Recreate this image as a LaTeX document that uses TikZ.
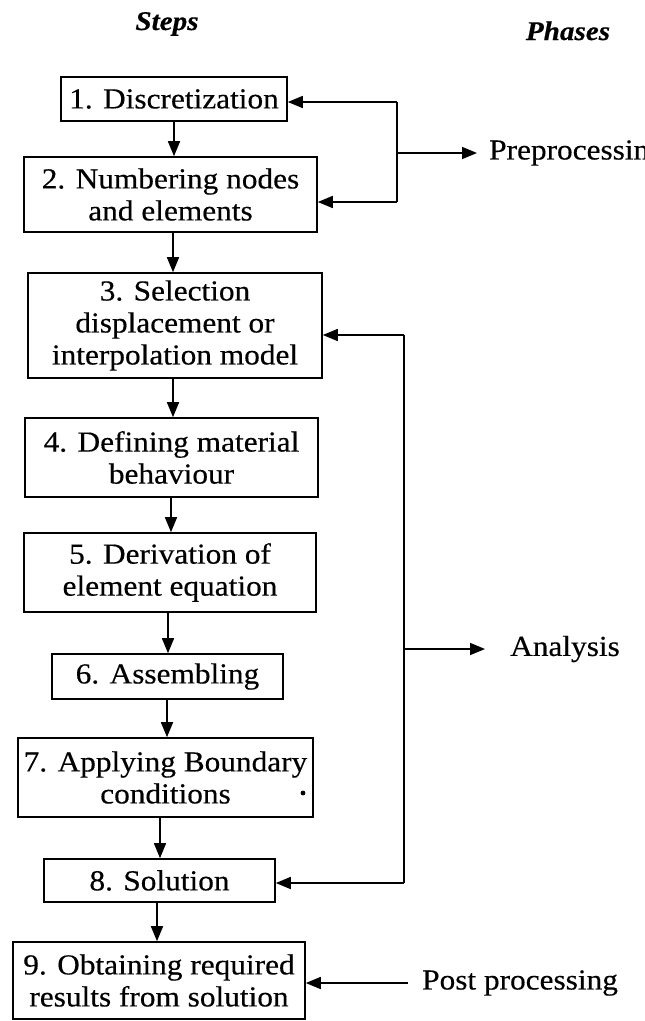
\documentclass[tikz,border=0pt]{standalone}
\usepackage{fontspec}
\setmainfont{Liberation Serif}[FakeStretch=1.08,FakeBold=0.4]
\usetikzlibrary{arrows.meta}
\tikzset{
  stepbox/.style={draw, line width=1.6pt, inner sep=0pt, align=center,
    font=\fontsize{29}{32}\selectfont},
  lbl/.style={anchor=west, inner ysep=0pt, font=\fontsize{29}{32}\selectfont},
  head/.style={anchor=base, inner sep=0pt, font=\fontsize{27}{30}\selectfont\bfseries\itshape},
  conn/.style={line width=1.6pt},
  arr/.style={line width=1.6pt, -{Triangle[length=15pt,width=12pt]}}
}
\begin{document}
\begin{tikzpicture}[x=1pt,y=-1pt]
\useasboundingbox (0,0) rectangle (645,1021);
% headings
\node[head] (hs) at (167,30) {Steps};
\node[head] (hp) at (568,40) {Phases};
% step boxes
\node[stepbox, minimum width=226pt, minimum height=44pt]  (b1) at (174,99)    {1. Discretization};
\node[stepbox, minimum width=293pt, minimum height=75pt]  (b2) at (170.5,194.5) {2. Numbering nodes\\and elements};
\node[stepbox, minimum width=294pt, minimum height=105pt] (b3) at (175,325.5) {3. Selection\\displacement or\\interpolation model};
\node[stepbox, minimum width=293pt, minimum height=79pt]  (b4) at (171.5,457.5) {4. Defining material\\behaviour};
\node[stepbox, minimum width=292pt, minimum height=79pt]  (b5) at (170,572.5) {5. Derivation of\\element equation};
\node[stepbox, minimum width=231pt, minimum height=45pt]  (b6) at (167.5,676.5) {6. Assembling};
\node[stepbox, minimum width=295pt, minimum height=79pt]  (b7) at (165.5,777.5) {7. Applying Boundary\\conditions};
\node[stepbox, minimum width=231pt, minimum height=43pt]  (b8) at (159.5,880.5) {8. Solution};
\node[stepbox, minimum width=292pt, minimum height=77pt]  (b9) at (159,980.5) {9. Obtaining required\\results from solution};
% stray dot
\fill (303,793) circle (2.4pt);
% vertical flow
\draw[arr] (b1) -- (b1 |- b2.north);
\draw[arr] ([xshift=2.5pt]b2.south) -- ([xshift=2.5pt]b2.south |- b3.north);
\draw[arr] ([xshift=-2pt]b3.south) -- ([xshift=-2pt]b3.south |- b4.north);
\draw[arr] ([xshift=-0.5pt]b4.south) -- ([xshift=-0.5pt]b4.south |- b5.north);
\draw[arr] ([xshift=-2pt]b5.south) -- ([xshift=-2pt]b5.south |- b6.north);
\draw[arr] ([xshift=-0.5pt]b6.south) -- ([xshift=-0.5pt]b6.south |- b7.north);
\draw[arr] ([xshift=-5.5pt]b7.south) -- ([xshift=-5.5pt]b7.south |- b8.north);
\draw[arr] ([xshift=-2.5pt]b8.south) -- ([xshift=-2.5pt]b8.south |- b9.north);
% phase labels
\node[lbl, inner xsep=12pt] (prep) at (477,153) {Preprocessing};
\node[lbl, inner xsep=25pt] (ana)  at (485,649) {Analysis};
\node[lbl, inner xsep=14pt] (post) at (408,983) {Post processing};
% preprocessing bracket
\coordinate (p1) at (397,102);
\coordinate (p2) at (397,202);
\coordinate (pm) at (397,153);
\draw[conn] (p1) -- (p2);
\draw[arr] (p1) -- (b1.east |- p1);
\draw[arr] (p2) -- (b2.east |- p2);
\draw[arr] (pm) -- (prep.west);
% analysis bracket
\coordinate (a1) at (404,335);
\coordinate (a2) at (404,883);
\coordinate (am) at (404,649);
\draw[conn] (a1) -- (a2);
\draw[arr] (a1) -- (b3.east |- a1);
\draw[arr] (a2) -- (b8.east |- a2);
\draw[arr] (am) -- (ana.west);
% post processing
\draw[arr] (post.west) -- (b9.east |- post.west);
\end{tikzpicture}
\end{document}
